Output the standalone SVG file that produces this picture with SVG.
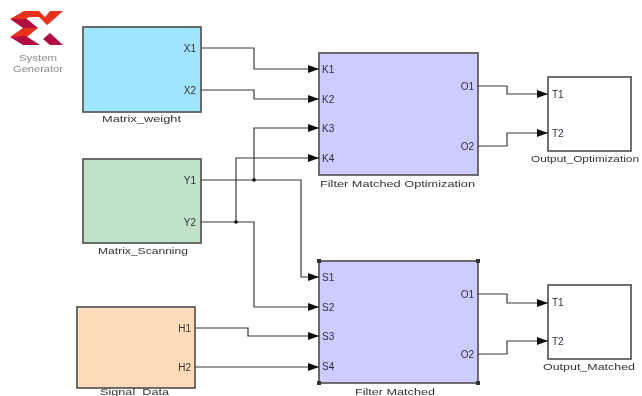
<svg xmlns="http://www.w3.org/2000/svg" width="642" height="396" viewBox="0 0 642 396">
<style>
text{font-family:"Liberation Sans",Arial,sans-serif;font-size:10px;fill:#333}
.p{fill:#2c2c44}
.e{text-anchor:end}
.c{font-size:9.5px}
.b{stroke:#555;stroke-width:1.7}
.w{fill:none;stroke:#3a3a3a;stroke-width:1.2;marker-end:url(#a)}
.g{fill:#8a8a8a;font-size:9.5px}
.r{fill:#e8321f}
.d{fill:#b01040}
</style>
<defs>
<marker id="a" markerUnits="userSpaceOnUse" markerWidth="12" markerHeight="9" refX="11" refY="4" orient="auto"><path d="M0 0L11 4L0 8Z" fill="#111"/></marker>
<filter id="s" x="-2%" y="-2%" width="104%" height="104%"><feGaussianBlur stdDeviation="0.35"/></filter>
</defs>
<rect width="642" height="396" fill="#fff"/>
<g filter="url(#s)">
<g id="logo">
<polygon class="r" points="10,19 24,11 39,11 45,17 50,11 63,11 52,21 47,25 39,17 29,17 26,19"/>
<polygon class="d" points="10,19 27,19 38,28 23,28"/>
<polygon class="r" points="23,28 38,28 28,36 26,37 10,37"/>
<polygon class="d" points="10,37 26,36 40,45 23,45"/>
<polygon class="d" points="50,33 63,45 50,45 43,39"/>
<text class="g" x="19" y="61" textLength="38" lengthAdjust="spacingAndGlyphs">System</text>
<text class="g" x="13" y="72" textLength="50" lengthAdjust="spacingAndGlyphs">Generator</text>
</g>
<g id="matrix-weight">
<rect class="b" x="83" y="27" width="118" height="85" fill="#a0e5ff"/>
<text class="e" x="196" y="52">X1</text><text class="e" x="196" y="94">X2</text>
<text class="c" x="102" y="122" textLength="79" lengthAdjust="spacingAndGlyphs">Matrix_weight</text>
</g>
<g id="matrix-scanning">
<rect class="b" x="83" y="159" width="118" height="84" fill="#bfe2c9"/>
<text class="e" x="196" y="184">Y1</text><text class="e" x="196" y="226">Y2</text>
<text class="c" x="98" y="254" textLength="90" lengthAdjust="spacingAndGlyphs">Matrix_Scanning</text>
</g>
<g id="signal-data">
<rect class="b" x="77" y="307" width="118" height="81" fill="#ffdcb9"/>
<text class="e" x="191" y="332">H1</text><text class="e" x="191" y="371">H2</text>
<text class="c" x="100" y="394.5" textLength="69" lengthAdjust="spacingAndGlyphs">Signal_Data</text>
</g>
<g id="filter-opt">
<rect class="b" x="319" y="53" width="159" height="122" fill="#ccccff"/>
<text class="p" x="322" y="73">K1</text><text class="p" x="322" y="103">K2</text><text class="p" x="322" y="132">K3</text><text class="p" x="322" y="162">K4</text>
<text class="e" x="474" y="90">O1</text><text class="e" x="474" y="150">O2</text>
<text class="c" x="320" y="187" textLength="155" lengthAdjust="spacingAndGlyphs">Filter Matched Optimization</text>
</g>
<g id="filter-matched">
<rect class="b" x="319" y="261" width="159" height="122" fill="#ccccff"/>
<path d="M317 259h4v4h-4zM476 259h4v4h-4zM317 381h4v4h-4zM476 381h4v4h-4z" fill="#333"/>
<text class="p" x="322" y="281">S1</text><text class="p" x="322" y="311">S2</text><text class="p" x="322" y="340">S3</text><text class="p" x="322" y="370">S4</text>
<text class="e" x="474" y="298">O1</text><text class="e" x="474" y="358">O2</text>
<text class="c" x="355" y="394.5" textLength="80" lengthAdjust="spacingAndGlyphs">Filter Matched</text>
</g>
<g id="output-opt">
<rect class="b" x="548" y="77" width="83" height="74" fill="#fff"/>
<text class="p" x="552" y="98">T1</text><text class="p" x="552" y="137">T2</text>
<text class="c" x="531" y="162" textLength="108" lengthAdjust="spacingAndGlyphs">Output_Optimization</text>
</g>
<g id="output-matched">
<rect class="b" x="548" y="285" width="83" height="74" fill="#fff"/>
<text class="p" x="552" y="306">T1</text><text class="p" x="552" y="345">T2</text>
<text class="c" x="543" y="370" textLength="92" lengthAdjust="spacingAndGlyphs">Output_Matched</text>
</g>
<g id="connectors">
<path class="w" d="M201 48H254V69H319"/>
<path class="w" d="M201 90H254V99H319"/>
<path class="w" d="M254 180V128H319"/>
<path class="w" d="M236 222V158H319"/>
<path class="w" d="M201 180H301V277H319"/>
<path class="w" d="M201 222H254V307H319"/>
<path class="w" d="M195 328H248V336H319"/>
<path class="w" d="M195 367H319"/>
<path class="w" d="M478 86H507V94H548"/>
<path class="w" d="M478 146H507V133H548"/>
<path class="w" d="M478 294H507V303H548"/>
<path class="w" d="M478 354H507V341H548"/>
<circle cx="254" cy="180" r="1.8" fill="#111"/>
<circle cx="236" cy="222" r="1.8" fill="#111"/>
</g>
</g>
</svg>
